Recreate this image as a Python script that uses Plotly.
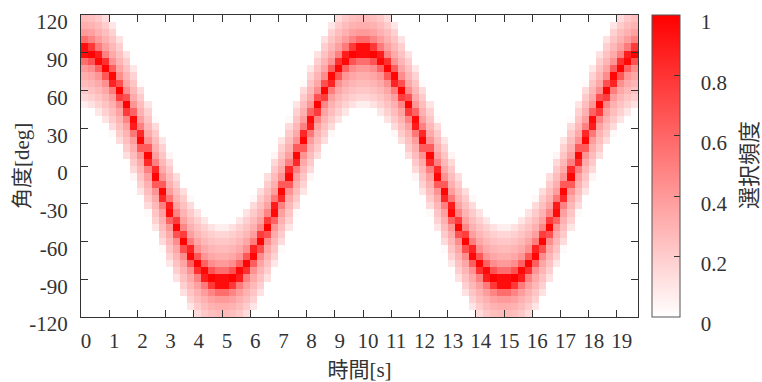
import numpy as np
import plotly.graph_objects as go

# ---- data ----
# time columns: 0.25 s wide, starting at 0 s
time_step = 0.25
n_cols = 79
# centre angle [deg] of the high-frequency ridge in each time column
half_period = [91.7, 89.5, 85.0, 78.4, 70.0, 59.7, 48.1, 35.2, 21.5, 7.2,
               -7.2, -21.5, -35.2, -48.1, -59.7, -70.0, -78.4, -85.0, -89.5, -91.7]
ridge_centre = (half_period + [-v for v in half_period]) * 2
ridge_centre = ridge_centre[:n_cols]
# selection frequency versus distance from the ridge [deg]
spread_dist = [0, 3, 6, 10, 14, 20, 28, 36, 42, 45]
spread_freq = [1.0, 0.95, 0.7, 0.5, 0.4, 0.32, 0.25, 0.18, 0.1, 0.0]
# angle bins: 0.1 rad wide
bin_rad = 0.1

x_ticks = list(range(0, 20))
y_ticks = [-120, -90, -60, -30, 0, 30, 60, 90, 120]
y_labels = ["-120", "-90", "-60", "-30", "0", "30", "60", "90", "120"]
cb_ticks = [0, 0.2, 0.4, 0.6, 0.8, 1]
cb_labels = ["0", "0.2", "0.4", "0.6", "0.8", "1"]

# ---- build grid ----
x_edges = [i * time_step for i in range(n_cols + 1)]
m = np.arange(-21, 22)
y_edges = np.degrees(m * bin_rad)
y_cent = (y_edges[:-1] + y_edges[1:]) / 2
z = np.zeros((len(y_cent), n_cols))
for k, c in enumerate(ridge_centre):
    z[:, k] = np.interp(np.abs(y_cent - c), spread_dist, spread_freq)

font_fam = "Liberation Serif, Noto Sans CJK JP, serif"
txt_col = "#333"

plot_w, plot_h = 557, 302
cb_x = (652 - 81) / plot_w
cb_th = 28
lab_shift = 7 / plot_h   # labels sit just below their tick

fig = go.Figure()
# heat map + colour bar (bar and tick marks only)
fig.add_trace(go.Heatmap(
    x=x_edges, y=y_edges, z=z,
    zmin=0, zmax=1,
    colorscale=[[0, "#ffffff"], [1, "#ff0000"]],
    colorbar=dict(
        x=cb_x, xanchor="left", xpad=0,
        y=0.5, yanchor="middle", len=1, lenmode="fraction", ypad=0,
        thickness=cb_th, outlinewidth=1, outlinecolor="#555",
        tickvals=cb_ticks[1:-1], ticks="inside", ticklen=6,
        tickcolor=txt_col, showticklabels=False,
    ),
))
# invisible trace that only carries the colour-bar tick labels
fig.add_trace(go.Scatter(
    x=[None], y=[None], mode="markers", hoverinfo="skip", showlegend=False,
    marker=dict(
        color=[0], cmin=0, cmax=1, showscale=True,
        colorscale=[[0, "rgba(0,0,0,0)"], [1, "rgba(0,0,0,0)"]],
        colorbar=dict(
            x=cb_x, xanchor="left", xpad=0,
            y=0.5 - lab_shift, yanchor="middle", len=1, lenmode="fraction",
            ypad=0, thickness=cb_th, outlinewidth=0,
            tickvals=cb_ticks, ticktext=cb_labels,
            ticks="outside", ticklen=17, tickcolor="rgba(0,0,0,0)",
            tickfont=dict(family=font_fam, size=21, color=txt_col),
        ),
    ),
))

fig.update_layout(
    width=762, height=382,
    margin=dict(l=81, r=124, t=15, b=65, autoexpand=False),
    paper_bgcolor="white", plot_bgcolor="white",
    font=dict(family=font_fam, size=21, color=txt_col),
    showlegend=False,
    annotations=[
        dict(text="選択頻度", textangle=-90, showarrow=False,
             xref="paper", yref="paper",
             x=(749 - 81) / plot_w, y=(317 - 165) / plot_h,
             xanchor="center", yanchor="middle",
             font=dict(family=font_fam, size=22, color=txt_col)),
        dict(text="角度[deg]", textangle=-90, showarrow=False,
             xref="paper", yref="paper",
             x=(22 - 81) / plot_w, y=(317 - 166) / plot_h,
             xanchor="center", yanchor="middle",
             font=dict(family=font_fam, size=21, color=txt_col)),
    ],
)
fig.update_xaxes(
    range=[0, 19.75], tickvals=x_ticks, ticks="inside", ticklen=7,
    showgrid=False, zeroline=False, showline=True, linecolor=txt_col,
    linewidth=1, mirror="ticks", tickcolor=txt_col,
    ticklabelshift=5, ticklabelstandoff=5,
    title=dict(text="時間[s]", standoff=10, font=dict(size=21)),
    tickfont=dict(size=21),
)
fig.update_yaxes(
    range=[-120, 120], tickvals=y_ticks, ticktext=y_labels,
    ticks="inside", ticklen=7,
    showgrid=False, zeroline=False, showline=True, linecolor=txt_col,
    linewidth=1, mirror="ticks", tickcolor=txt_col,
    ticklabelshift=7, ticklabelstandoff=8,
    tickfont=dict(size=21),
)

fig.write_html("out.html")
